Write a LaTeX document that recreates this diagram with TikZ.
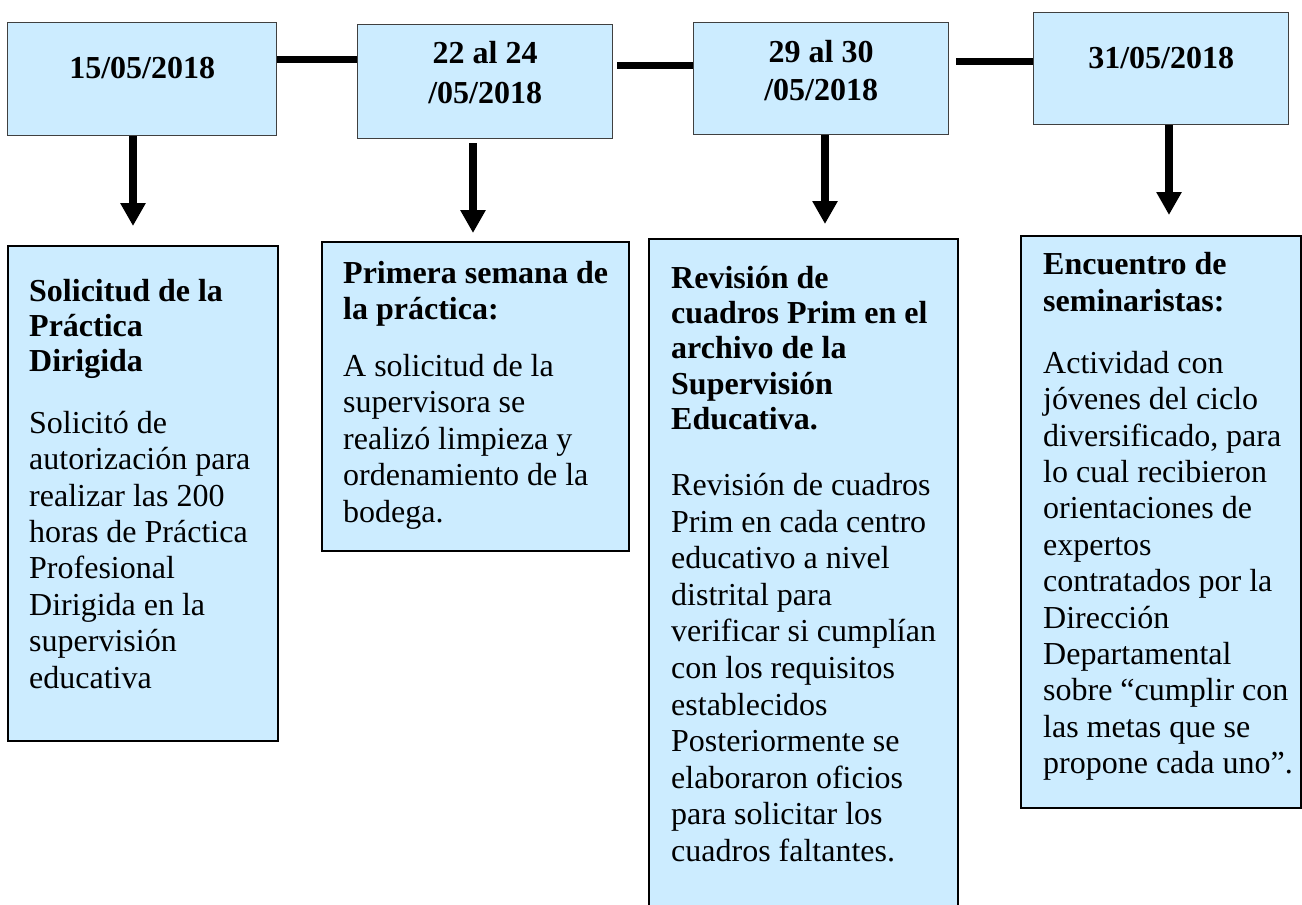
\documentclass[tikz,border=0pt]{standalone}
\usepackage{fontspec}
\setmainfont{Liberation Serif}
\usetikzlibrary{arrows.meta}
\definecolor{boxfill}{HTML}{CCECFF}
\definecolor{dateline}{HTML}{404040}
\newcommand{\ttlfont}[1]{\bfseries\fontsize{32}{#1}\selectfont}
\newcommand{\bdyfont}[1]{\mdseries\fontsize{32}{#1}\selectfont}
\tikzset{
  datebox/.style={draw=dateline, line width=1.3pt, fill=boxfill, inner sep=0pt, anchor=north west,
                  font=\bfseries\fontsize{32}{38}\selectfont},
  eventbox/.style={draw=black, line width=2.4pt, fill=boxfill, inner sep=0pt, anchor=north west},
  link/.style={line width=7pt, black},
  downarrow/.style={line width=8pt, black, -{Triangle[width=24pt,length=23pt]}}
}
\begin{document}
\begin{tikzpicture}[x=1pt, y=-1pt]
\useasboundingbox (0,0) rectangle (1302,905);
\clip (0,0) rectangle (1302,905);

% date boxes
\node[datebox] (A) at (7,22) {\parbox[t][113pt][t]{269pt}{\centering\rule{0pt}{56pt}15/05/2018}};
\node[datebox] (B) at (357,24) {\parbox[t][114pt][t]{255pt}{\centering\baselineskip=40pt\rule{0pt}{39pt}22 al 24\\/05/2018}};
\node[datebox] (C) at (693,22) {\parbox[t][112pt][t]{255pt}{\centering\baselineskip=38pt\rule{0pt}{40pt}29 al 30\\/05/2018}};
\node[datebox] (D) at (1033,12) {\parbox[t][112pt][t]{255pt}{\centering\rule{0pt}{56pt}31/05/2018}};

% event boxes
\node[eventbox] (L1) at (7,245) {\parbox[t][495pt][t]{270pt}{\raggedright\leftskip=21pt\parskip=0pt
\ttlfont{35}\rule{0pt}{55pt}Solicitud de la\\Práctica\\Dirigida\par
\vspace{25.6pt}
\bdyfont{36.4}Solicitó de\\autorización para\\realizar las 200\\horas de Práctica\\Profesional\\Dirigida en la\\supervisión\\educativa\par}};

\node[eventbox] (L2) at (321,241) {\parbox[t][309pt][t]{307pt}{\raggedright\leftskip=21pt\parskip=0pt
\ttlfont{36}\rule{0pt}{41pt}Primera semana de\\la práctica:\par
\vspace{20.5pt}
\bdyfont{36.5}A solicitud de la\\supervisora se\\realizó limpieza y\\ordenamiento de la\\bodega.\par}};

\node[eventbox] (L3) at (648,238) {\parbox[t][720pt][t]{309pt}{\raggedright\leftskip=22pt\parskip=0pt
\ttlfont{35.3}\rule{0pt}{49pt}Revisión de\\cuadros Prim en el\\archivo de la\\Supervisión\\Educativa.\par
\vspace{29.4pt}
\bdyfont{36.6}Revisión de cuadros\\Prim en cada centro\\educativo a nivel\\distrital para\\verificar si cumplían\\con los requisitos\\establecidos\\Posteriormente se\\elaboraron oficios\\para solicitar los\\cuadros faltantes.\par}};

\node[eventbox] (L4) at (1020,235) {\parbox[t][572pt][t]{280pt}{\raggedright\leftskip=22pt\parskip=0pt
\ttlfont{37}\rule{0pt}{38pt}Encuentro de\\seminaristas:\par
\vspace{25.6pt}
\bdyfont{36.4}Actividad con\\jóvenes del ciclo\\diversificado, para\\lo cual recibieron\\orientaciones de\\expertos\\contratados por la\\Dirección\\Departamental\\sobre “cumplir con\\las metas que se\\propone cada uno”.\par}};

% timeline links
\draw[link] ([yshift=-37pt]A.north east) -- ([yshift=-37pt]A.north east -| B.west);
\draw[link, shorten <=4pt] ([yshift=-41pt]B.north east) -- ([yshift=-41pt]B.north east -| C.west);
\draw[link, shorten <=7pt] ([yshift=-39pt]C.north east) -- ([yshift=-39pt]C.north east -| D.west);

% arrows
\draw[downarrow, shorten >=19pt] ([xshift=126pt]A.south west) -- ([xshift=126pt]A.south west |- L1.north);
\draw[downarrow, shorten <=4pt, shorten >=8pt] ([xshift=116pt]B.south west) -- ([xshift=116pt]B.south west |- L2.north);
\draw[downarrow, shorten >=14pt] ([xshift=132pt]C.south west) -- ([xshift=132pt]C.south west |- L3.north);
\draw[downarrow, shorten >=20pt] ([xshift=136pt]D.south west) -- ([xshift=136pt]D.south west |- L4.north);
\end{tikzpicture}
\end{document}
